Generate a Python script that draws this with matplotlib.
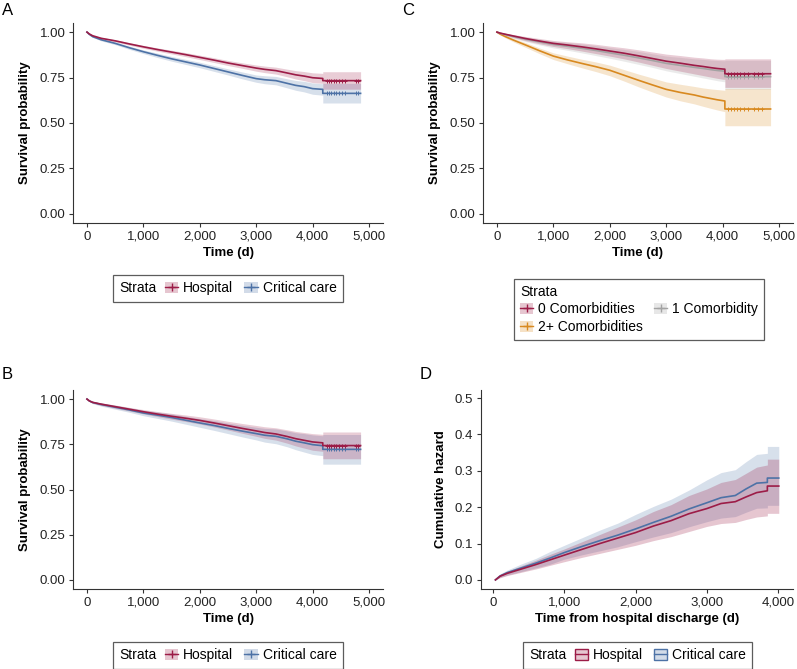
import numpy as np
import matplotlib
matplotlib.use('Agg')
import matplotlib.pyplot as plt
from matplotlib.patches import Patch
from matplotlib.lines import Line2D
from matplotlib.legend_handler import HandlerTuple
from matplotlib.offsetbox import HPacker
from matplotlib.ticker import StrMethodFormatter

plt.rcParams['font.family'] = ['Liberation Sans', 'DejaVu Sans']

RED = '#9C1C47'
BLUE = '#4D72A6'
ORANGE = '#D8891F'
GRAY = '#A3A3A3'
INK = '#333333'

# ---- panel A: survival by place of care (repeated time = vertical drop) ----
a_t = [0, 40, 100, 250, 500, 750, 1000, 1250, 1500, 1750, 2000, 2250, 2500, 2750,
       3000, 3150, 3350, 3550, 3700, 3850, 4000, 4180, 4180, 4850]
a_hosp = [1.0, 0.990, 0.980, 0.966, 0.952, 0.935, 0.919, 0.904, 0.890, 0.876, 0.861, 0.846,
          0.830, 0.816, 0.802, 0.795, 0.788, 0.775, 0.765, 0.758, 0.749, 0.745, 0.733, 0.733]
a_hosp_lo = [1.0, 0.988, 0.977, 0.961, 0.946, 0.928, 0.911, 0.895, 0.880, 0.865, 0.849, 0.833,
             0.816, 0.801, 0.785, 0.777, 0.769, 0.754, 0.742, 0.733, 0.722, 0.718, 0.686, 0.686]
a_hosp_hi = [1.0, 0.992, 0.983, 0.971, 0.958, 0.942, 0.927, 0.913, 0.900, 0.887, 0.873, 0.859,
             0.844, 0.831, 0.819, 0.813, 0.807, 0.796, 0.788, 0.783, 0.776, 0.773, 0.782, 0.782]
a_crit = [1.0, 0.988, 0.975, 0.958, 0.938, 0.914, 0.892, 0.872, 0.853, 0.836, 0.819, 0.800,
          0.781, 0.762, 0.744, 0.738, 0.733, 0.718, 0.707, 0.700, 0.689, 0.685, 0.663, 0.663]
a_crit_lo = [1.0, 0.985, 0.971, 0.952, 0.931, 0.905, 0.882, 0.860, 0.840, 0.822, 0.804, 0.784,
             0.764, 0.743, 0.724, 0.716, 0.710, 0.693, 0.680, 0.671, 0.658, 0.653, 0.610, 0.610]
a_crit_hi = [1.0, 0.991, 0.979, 0.964, 0.945, 0.923, 0.902, 0.884, 0.866, 0.850, 0.834, 0.816,
             0.798, 0.781, 0.764, 0.760, 0.756, 0.743, 0.734, 0.729, 0.720, 0.716, 0.718, 0.718]
a_cens = [4250, 4290, 4330, 4380, 4420, 4470, 4520, 4580, 4760, 4800]

# ---- panel B: matched cohort ----
b_t = a_t
b_hosp = [1.0, 0.990, 0.982, 0.972, 0.958, 0.944, 0.930, 0.917, 0.905, 0.894, 0.882, 0.868,
          0.853, 0.838, 0.824, 0.815, 0.807, 0.793, 0.781, 0.772, 0.763, 0.758, 0.743, 0.743]
b_hosp_lo = [1.0, 0.987, 0.977, 0.965, 0.949, 0.934, 0.918, 0.903, 0.889, 0.876, 0.862, 0.846,
             0.829, 0.811, 0.794, 0.783, 0.773, 0.756, 0.741, 0.729, 0.717, 0.711, 0.670, 0.670]
b_hosp_hi = [1.0, 0.993, 0.987, 0.979, 0.967, 0.954, 0.942, 0.931, 0.921, 0.912, 0.902, 0.890,
             0.877, 0.865, 0.854, 0.847, 0.841, 0.830, 0.821, 0.815, 0.809, 0.805, 0.818, 0.818]
b_crit = [1.0, 0.990, 0.981, 0.970, 0.955, 0.940, 0.923, 0.911, 0.898, 0.883, 0.868, 0.854,
          0.838, 0.823, 0.809, 0.800, 0.794, 0.780, 0.767, 0.758, 0.748, 0.742, 0.722, 0.722]
b_crit_lo = [1.0, 0.986, 0.975, 0.961, 0.944, 0.927, 0.908, 0.893, 0.878, 0.861, 0.844, 0.827,
             0.809, 0.791, 0.774, 0.762, 0.753, 0.736, 0.720, 0.707, 0.694, 0.687, 0.640, 0.640]
b_crit_hi = [1.0, 0.994, 0.987, 0.979, 0.966, 0.953, 0.938, 0.929, 0.918, 0.905, 0.892, 0.881,
             0.867, 0.855, 0.844, 0.838, 0.835, 0.824, 0.814, 0.809, 0.802, 0.797, 0.804, 0.804]
b_cens = a_cens

# ---- panel C: survival by comorbidity ----
c_t = [0, 50, 150, 300, 500, 750, 1000, 1250, 1500, 1750, 2000, 2250, 2500, 2750,
       3000, 3250, 3500, 3650, 3800, 3900, 4000, 4040, 4040, 4850]
c_zero = [1.0, 0.995, 0.988, 0.978, 0.965, 0.951, 0.938, 0.929, 0.919, 0.908, 0.896, 0.884,
          0.870, 0.855, 0.840, 0.829, 0.817, 0.811, 0.804, 0.800, 0.797, 0.796, 0.771, 0.771]
c_zero_lo = [1.0, 0.992, 0.982, 0.969, 0.953, 0.936, 0.921, 0.909, 0.896, 0.882, 0.868, 0.853,
             0.836, 0.818, 0.800, 0.785, 0.770, 0.761, 0.752, 0.746, 0.741, 0.740, 0.696, 0.696]
c_zero_hi = [1.0, 0.998, 0.994, 0.986, 0.976, 0.965, 0.954, 0.947, 0.941, 0.933, 0.923, 0.914,
             0.903, 0.891, 0.879, 0.871, 0.862, 0.858, 0.853, 0.851, 0.850, 0.850, 0.853, 0.853]
c_one = [1.0, 0.994, 0.986, 0.975, 0.961, 0.946, 0.932, 0.922, 0.911, 0.899, 0.886, 0.873,
         0.859, 0.844, 0.828, 0.817, 0.806, 0.800, 0.793, 0.789, 0.786, 0.785, 0.755, 0.755]
c_one_lo = [1.0, 0.990, 0.979, 0.965, 0.948, 0.930, 0.913, 0.900, 0.886, 0.871, 0.856, 0.840,
            0.823, 0.806, 0.787, 0.772, 0.757, 0.748, 0.739, 0.733, 0.728, 0.727, 0.686, 0.686]
c_one_hi = [1.0, 0.997, 0.992, 0.984, 0.973, 0.961, 0.950, 0.943, 0.935, 0.926, 0.915, 0.905,
            0.894, 0.881, 0.868, 0.861, 0.853, 0.850, 0.846, 0.844, 0.843, 0.842, 0.845, 0.845]
c_two = [1.0, 0.990, 0.975, 0.955, 0.930, 0.898, 0.868, 0.847, 0.828, 0.810, 0.790, 0.763,
         0.736, 0.710, 0.685, 0.668, 0.654, 0.643, 0.634, 0.628, 0.623, 0.621, 0.577, 0.577]
c_two_lo = [1.0, 0.986, 0.968, 0.945, 0.917, 0.882, 0.849, 0.826, 0.804, 0.783, 0.760, 0.731,
            0.700, 0.671, 0.643, 0.622, 0.605, 0.592, 0.580, 0.572, 0.565, 0.562, 0.485, 0.485]
c_two_hi = [1.0, 0.994, 0.982, 0.965, 0.943, 0.913, 0.886, 0.868, 0.851, 0.836, 0.818, 0.794,
            0.770, 0.748, 0.726, 0.713, 0.701, 0.693, 0.687, 0.684, 0.681, 0.680, 0.690, 0.690]
c_cens = [4100, 4150, 4200, 4260, 4300, 4380, 4450, 4550, 4620, 4700]

# ---- panel D: cumulative hazard ----
d_t = [35, 100, 200, 400, 600, 800, 1000, 1250, 1500, 1750, 2000, 2250, 2500, 2750,
       3000, 3200, 3400, 3550, 3700, 3850, 3850, 4010]
d_hosp = [0, 0.010, 0.018, 0.030, 0.042, 0.055, 0.068, 0.084, 0.100, 0.115, 0.130, 0.148,
          0.163, 0.182, 0.196, 0.210, 0.215, 0.228, 0.240, 0.245, 0.258, 0.258]
d_hosp_lo = [0, 0.006, 0.012, 0.021, 0.030, 0.040, 0.050, 0.062, 0.073, 0.084, 0.095, 0.108,
             0.119, 0.133, 0.147, 0.155, 0.158, 0.166, 0.173, 0.176, 0.183, 0.183]
d_hosp_hi = [0, 0.014, 0.024, 0.039, 0.054, 0.070, 0.085, 0.105, 0.125, 0.145, 0.165, 0.188,
             0.207, 0.232, 0.250, 0.268, 0.276, 0.293, 0.310, 0.316, 0.332, 0.332]
d_crit = [0, 0.011, 0.020, 0.033, 0.046, 0.060, 0.075, 0.092, 0.108, 0.123, 0.140, 0.158,
          0.175, 0.195, 0.212, 0.226, 0.232, 0.250, 0.266, 0.268, 0.280, 0.280]
d_crit_lo = [0, 0.007, 0.013, 0.023, 0.033, 0.043, 0.057, 0.069, 0.080, 0.091, 0.105, 0.118,
             0.130, 0.146, 0.160, 0.170, 0.174, 0.186, 0.197, 0.198, 0.205, 0.205]
d_crit_hi = [0, 0.016, 0.027, 0.044, 0.059, 0.078, 0.095, 0.116, 0.137, 0.156, 0.180, 0.202,
             0.222, 0.247, 0.275, 0.295, 0.303, 0.325, 0.345, 0.348, 0.367, 0.367]

hosp_labels = ['Hospital', 'Critical care']
comorb_labels = ['0 Comorbidities', '1 Comorbidity', '2+ Comorbidities']


def draw_curve(ax, t, est, lo, hi, color, cens=None, alpha=0.22):
    ax.fill_between(t, lo, hi, color=color, alpha=alpha, lw=0)
    ax.plot(t, est, color=color, lw=1.2)
    if cens is not None:
        ax.plot(cens, np.interp(cens, t, est), ls='none', marker='+', ms=3.5, mew=0.7, color=color)


def style_axes(ax, xlabel, ylabel, yfmt):
    for side in ['top', 'right']:
        ax.spines[side].set_visible(False)
    for side in ['left', 'bottom']:
        ax.spines[side].set_color(INK)
        ax.spines[side].set_linewidth(0.8)
    ax.tick_params(colors=INK, labelcolor='#222222', labelsize=9.5, length=3, width=0.8, pad=2.5)
    ax.xaxis.set_major_formatter(StrMethodFormatter('{x:,.0f}'))
    ax.yaxis.set_major_formatter(StrMethodFormatter(yfmt))
    ax.set_xlabel(xlabel, fontsize=9.5, fontweight='bold', labelpad=3)
    ax.set_ylabel(ylabel, fontsize=9.5, fontweight='bold', labelpad=6)


def inline_title(leg):
    # put the legend title "Strata" to the left of the keys, like ggplot
    fs = leg._fontsize
    box = HPacker(pad=leg.borderpad * fs, sep=0.6 * fs, align='center',
                  children=[leg._legend_title_box, leg._legend_handle_box])
    box.set_figure(leg.figure)
    leg._legend_box = box
    box.set_offset(leg._findoffset)


def make_legend(fig, handles, labels, center, ncol, inline):
    leg = fig.legend(handles, labels, loc='center', bbox_to_anchor=center, ncol=ncol,
                     title='Strata', title_fontsize=10, fontsize=10, frameon=True,
                     fancybox=False, edgecolor=INK, handlelength=0.95, handleheight=0.85,
                     handletextpad=0.35, columnspacing=0.8, borderpad=0.45, labelspacing=0.25,
                     handler_map={tuple: HandlerTuple(ndivide=1, pad=0)}, alignment='left')
    leg.get_frame().set_linewidth(0.9)
    if inline:
        inline_title(leg)
    return leg


def km_handle(color):
    return (Patch(facecolor=color, alpha=0.25, lw=0),
            Line2D([], [], color=color, lw=1.0, marker='+', ms=6, mew=1.0))


def haz_handle(color):
    return (Patch(facecolor=color, alpha=0.25, lw=0),
            Patch(facecolor='none', edgecolor=color, lw=1.0),
            Line2D([], [], color=color, lw=1.0))


fig = plt.figure(figsize=(7.97, 6.69), dpi=100)

axA = fig.add_axes([0.0916, 0.6667, 0.389, 0.2989])
axC = fig.add_axes([0.6060, 0.6667, 0.389, 0.2989])
axB = fig.add_axes([0.0916, 0.1196, 0.389, 0.2974])
axD = fig.add_axes([0.6035, 0.1196, 0.3915, 0.2974])

# A
draw_curve(axA, a_t, a_crit, a_crit_lo, a_crit_hi, BLUE, a_cens)
draw_curve(axA, a_t, a_hosp, a_hosp_lo, a_hosp_hi, RED, a_cens)
# B
draw_curve(axB, b_t, b_crit, b_crit_lo, b_crit_hi, BLUE, b_cens)
draw_curve(axB, b_t, b_hosp, b_hosp_lo, b_hosp_hi, RED, b_cens)
# C
draw_curve(axC, c_t, c_two, c_two_lo, c_two_hi, ORANGE, c_cens)
draw_curve(axC, c_t, c_one, c_one_lo, c_one_hi, GRAY, c_cens)
draw_curve(axC, c_t, c_zero, c_zero_lo, c_zero_hi, RED, c_cens)
# D
draw_curve(axD, d_t, d_crit, d_crit_lo, d_crit_hi, BLUE, alpha=0.22)
draw_curve(axD, d_t, d_hosp, d_hosp_lo, d_hosp_hi, RED, alpha=0.25)

for ax in [axA, axB, axC]:
    ax.set_xlim(-248, 5248)
    ax.set_ylim(-0.05, 1.05)
    ax.set_xticks([0, 1000, 2000, 3000, 4000, 5000])
    ax.set_yticks([0, 0.25, 0.5, 0.75, 1.0])
    style_axes(ax, 'Time (d)', 'Survival probability', '{x:.2f}')

axD.set_xlim(-168, 4210)
axD.set_ylim(-0.025, 0.522)
axD.set_xticks([0, 1000, 2000, 3000, 4000])
axD.set_yticks([0, 0.1, 0.2, 0.3, 0.4, 0.5])
style_axes(axD, 'Time from hospital discharge (d)', 'Cumulative hazard', '{x:.1f}')

# panel letters
fig.text(0.002, 0.985, 'A', fontsize=12, va='center', ha='left')
fig.text(0.505, 0.985, 'C', fontsize=12, va='center', ha='left')
fig.text(0.002, 0.4395, 'B', fontsize=12, va='center', ha='left')
fig.text(0.526, 0.4395, 'D', fontsize=12, va='center', ha='left')

# legends
make_legend(fig, [km_handle(RED), km_handle(BLUE)], hosp_labels, (0.2861, 0.5688), 2, True)
make_legend(fig, [km_handle(RED), km_handle(BLUE)], hosp_labels, (0.2861, 0.0202), 2, True)
make_legend(fig, [haz_handle(RED), haz_handle(BLUE)], hosp_labels, (0.8000, 0.0202), 2, True)
make_legend(fig, [km_handle(RED), km_handle(ORANGE), km_handle(GRAY)],
            [comorb_labels[0], comorb_labels[2], comorb_labels[1]], (0.8018, 0.5374), 2, False)

fig.savefig('out.png', dpi=100)
